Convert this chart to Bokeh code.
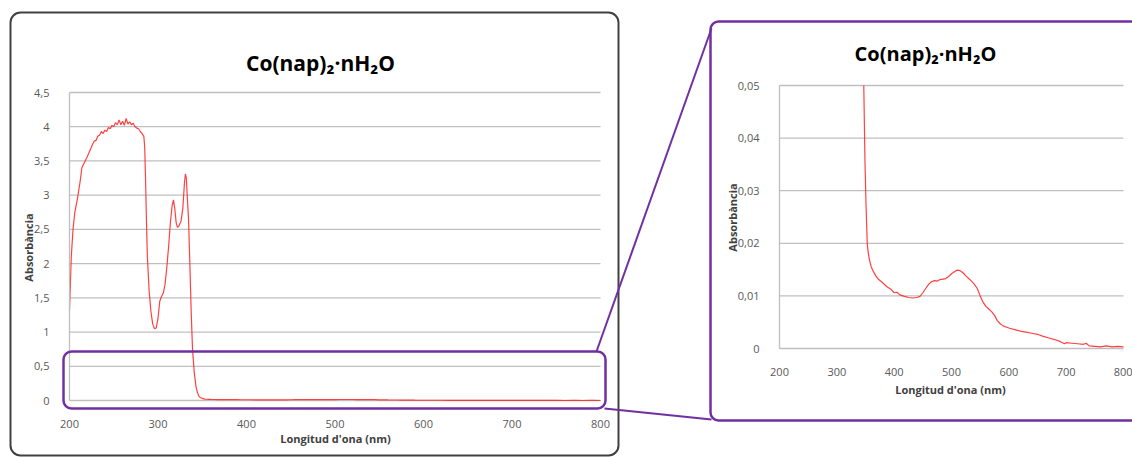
import math

from bokeh.plotting import figure
from bokeh.models import (Range1d, LinearAxis, FixedTicker, Label, BoxAnnotation,
                          PolyAnnotation, ColumnDataSource)
from bokeh.embed import file_html
from bokeh.resources import INLINE

# UV-Vis spectrum of Co(nap)2·nH2O
wavelength = [200, 201, 202, 204, 206, 209, 212, 214, 217, 220, 223, 226, 228, 230,
              232, 234, 236, 238, 240, 242, 244, 246, 248, 250, 252, 254, 256, 258,
              260, 262, 264, 266, 268, 270, 272, 274, 276, 278, 280, 282, 284, 285,
              286, 287, 288, 290, 292, 294, 296, 298, 300, 302, 304, 306, 308, 310,
              312, 314, 316, 317.5, 319, 320.5, 322, 324, 326, 328, 330, 331, 332,
              333, 334.5, 336, 337.5, 339, 341, 343, 344.5, 346, 347, 349, 351, 353,
              355, 357, 360, 363, 368, 373, 380, 388, 395, 400, 405, 410, 418, 425,
              433, 440, 445, 450, 455, 460, 465, 470, 475, 480, 490, 495, 500, 505,
              510, 515, 520, 525, 530, 535, 540, 545, 550, 555, 560, 565, 570, 575,
              580, 585, 590, 600, 610, 620, 630, 640, 650, 660, 670, 680, 690, 697,
              700, 710, 720, 730, 735, 740, 750, 760, 770, 780, 790, 800]
absorbance = [1.32, 1.7, 2.1, 2.5, 2.75, 2.95, 3.2, 3.4, 3.48, 3.56, 3.65, 3.74, 3.79,
              3.8, 3.86, 3.88, 3.93, 3.9, 3.95, 3.93, 3.99, 3.97, 4.02, 4.0, 4.06, 4.03,
              4.1, 4.03, 4.08, 4.02, 4.12, 4.04, 4.07, 4.03, 4.05, 4.0, 3.98, 3.97,
              3.93, 3.9, 3.86, 3.7, 3.2, 2.6, 2.1, 1.6, 1.3, 1.12, 1.05, 1.06, 1.2,
              1.45, 1.52, 1.57, 1.7, 1.95, 2.25, 2.6, 2.85, 2.93, 2.8, 2.6, 2.53, 2.56,
              2.62, 2.8, 3.2, 3.31, 3.25, 3.0, 2.65, 2.0, 1.3, 0.75, 0.4, 0.2, 0.12,
              0.07, 0.05, 0.036, 0.027, 0.02, 0.018, 0.0168, 0.0155, 0.0148, 0.0138,
              0.0131, 0.0125, 0.0117, 0.0112, 0.0106, 0.0107, 0.0102, 0.0099, 0.0097,
              0.0096, 0.0097, 0.0099, 0.0106, 0.0114, 0.0122, 0.0127, 0.0129, 0.0128,
              0.0131, 0.0133, 0.0137, 0.0142, 0.0146, 0.0149, 0.0148, 0.0144, 0.0138,
              0.0133, 0.0128, 0.0122, 0.0114, 0.0100, 0.0088, 0.0080, 0.0075, 0.0070,
              0.0063, 0.0053, 0.0047, 0.0043, 0.0039, 0.0036, 0.0033, 0.0031, 0.0029,
              0.0027, 0.0023, 0.0020, 0.0017, 0.0013, 0.0009, 0.0011, 0.0010, 0.0009,
              0.0008, 0.0010, 0.0005, 0.0004, 0.0003, 0.0005, 0.0003, 0.0004, 0.0003]

x_ticks = [200, 300, 400, 500, 600, 700, 800]
full_y_ticks = [0, 0.5, 1, 1.5, 2, 2.5, 3, 3.5, 4, 4.5]
full_y_labels = ["0", "0,5", "1", "1,5", "2", "2,5", "3", "3,5", "4", "4,5"]
zoom_y_ticks = [0, 0.01, 0.02, 0.03, 0.04, 0.05]
zoom_y_labels = ["0", "0,01", "0,02", "0,03", "0,04", "0,05"]

chart_title = "Co(nap)₂·nH₂O"
x_title = "Longitud d'ona (nm)"
y_title = "Absorbància"

FONT = "Open Sans"
PURPLE = "#7030A0"
GRID = "#BFBFBF"
TICK_TEXT = "#595959"
AXIS_TEXT = "#404040"

W, H = 1132, 457
# pixel boxes (left, right, top, bottom) of the two plotting areas on the canvas
MAIN_BOX = (69, 600, 92, 400)
ZOOM_BOX = (779, 1123, 85, 348)
X_LIM = (x_ticks[0], x_ticks[-1])
MAIN_YLIM = (full_y_ticks[0], full_y_ticks[-1])
ZOOM_YLIM = (zoom_y_ticks[0], zoom_y_ticks[-1])


def x_canvas_range(lo, hi, box):
    # a range covering the whole canvas width, with lo..hi landing on the box
    left, right = box[0], box[1]
    k = (hi - lo) / (right - left)
    return Range1d(lo - left * k, hi + (W - right) * k)


def y_canvas_range(lo, hi, box):
    top, bottom = box[2], box[3]
    k = (hi - lo) / (bottom - top)
    return Range1d(lo - (H - bottom) * k, hi + top * k)


p = figure(width=W, height=H, output_backend="svg", toolbar_location=None,
           x_axis_location=None, y_axis_location=None, title=None,
           x_range=x_canvas_range(*X_LIM, MAIN_BOX),
           y_range=y_canvas_range(*MAIN_YLIM, MAIN_BOX),
           min_border=0)
p.extra_x_ranges = {"zx": x_canvas_range(*X_LIM, ZOOM_BOX)}
p.extra_y_ranges = {"zy": y_canvas_range(*ZOOM_YLIM, ZOOM_BOX)}
p.outline_line_color = None
p.grid.grid_line_color = None
p.background_fill_color = "white"
p.border_fill_color = "white"


def canvas(px, py):
    # canvas pixel (origin top-left) -> screen units (origin bottom-left)
    return px, H - py


def add_box(x0, y0, x1, y1, color, lw, radius):
    l, t = canvas(x0, y0)
    r, b = canvas(x1, y1)
    p.add_layout(BoxAnnotation(left=l, right=r, top=t, bottom=b,
                               left_units="screen", right_units="screen",
                               top_units="screen", bottom_units="screen",
                               fill_alpha=0, line_color=color, line_width=lw,
                               line_alpha=1, border_radius=radius))


def add_link(x0, y0, x1, y1):
    a = canvas(x0, y0)
    b = canvas(x1, y1)
    p.add_layout(PolyAnnotation(xs=[a[0], b[0]], ys=[a[1], b[1]],
                                xs_units="screen", ys_units="screen",
                                fill_alpha=0, line_color=PURPLE, line_width=2,
                                line_alpha=1))


def add_text(px, py, text, size, bold=True, color="#000000", angle=0.0):
    x, y = canvas(px, py)
    p.add_layout(Label(x=x, y=y, x_units="screen", y_units="screen", text=text,
                       text_align="center", text_baseline="middle", text_font=FONT,
                       text_font_size=size,
                       text_font_style="bold" if bold else "normal",
                       text_color=color, angle=angle))


def draw_chart(box, ylim, y_ticks, y_labels, wl, ab, xr="default", yr="default"):
    # horizontal gridlines at the y ticks (the one at 0 doubles as the x axis line)
    grid_src = ColumnDataSource(data=dict(y=y_ticks))
    p.segment(x0=X_LIM[0], x1=X_LIM[1], y0="y", y1="y", source=grid_src,
              line_color=GRID, line_width=1.3, x_range_name=xr, y_range_name=yr)
    # spectrum
    src = ColumnDataSource(data=dict(wl=wl, ab=ab))
    p.line(x="wl", y="ab", source=src, line_color="#FF2020", line_width=1.2,
           line_alpha=0.85, x_range_name=xr, y_range_name=yr)

    xa = LinearAxis(x_range_name=xr, y_range_name=yr, fixed_location=ylim[0],
                    bounds=X_LIM, ticker=FixedTicker(ticks=x_ticks))
    ya = LinearAxis(x_range_name=xr, y_range_name=yr, fixed_location=X_LIM[0],
                    bounds=ylim, ticker=FixedTicker(ticks=y_ticks),
                    major_label_overrides={t: s for t, s in zip(y_ticks, y_labels)})
    for ax in (xa, ya):
        ax.axis_line_color = GRID
        ax.axis_line_width = 1.3
        ax.major_tick_line_color = None
        ax.minor_tick_line_color = None
        ax.major_label_text_font = FONT
        ax.major_label_text_font_size = "11px"
        ax.major_label_text_color = TICK_TEXT
    xa.axis_line_color = None
    xa.major_label_standoff = 13
    ya.major_label_standoff = 14
    p.add_layout(xa, "below")
    p.add_layout(ya, "left")


# full-range chart
draw_chart(MAIN_BOX, MAIN_YLIM, full_y_ticks, full_y_labels, wavelength, absorbance)

# magnified view: the part of the spectrum inside the 0–0.05 window
zoom_idx = [i for i, a in enumerate(absorbance) if a <= ZOOM_YLIM[1]]
draw_chart(ZOOM_BOX, ZOOM_YLIM, zoom_y_ticks, zoom_y_labels,
           [wavelength[i] for i in zoom_idx], [absorbance[i] for i in zoom_idx],
           xr="zx", yr="zy")

# panel frames and the zoom connectors
add_box(10, 12, 618, 455, color="#404040", lw=2, radius=10)
add_box(63, 351, 605, 408, color=PURPLE, lw=2.5, radius=8)
add_box(710, 21, 1160, 420, color=PURPLE, lw=2.5, radius=8)
add_link(596, 351, 711, 28)
add_link(604, 408, 711, 419)

# titles and axis titles
add_text(320, 62, chart_title, "21px")
add_text(925, 53, chart_title, "20px")
add_text(335, 438, x_title, "11px", color=AXIS_TEXT)
add_text(950, 389, x_title, "11px", color=AXIS_TEXT)
add_text(28, 247, y_title, "11px", color=AXIS_TEXT, angle=math.pi / 2)
add_text(732, 217, y_title, "11px", color=AXIS_TEXT, angle=math.pi / 2)

open("out.html", "w").write(file_html(p, INLINE))
